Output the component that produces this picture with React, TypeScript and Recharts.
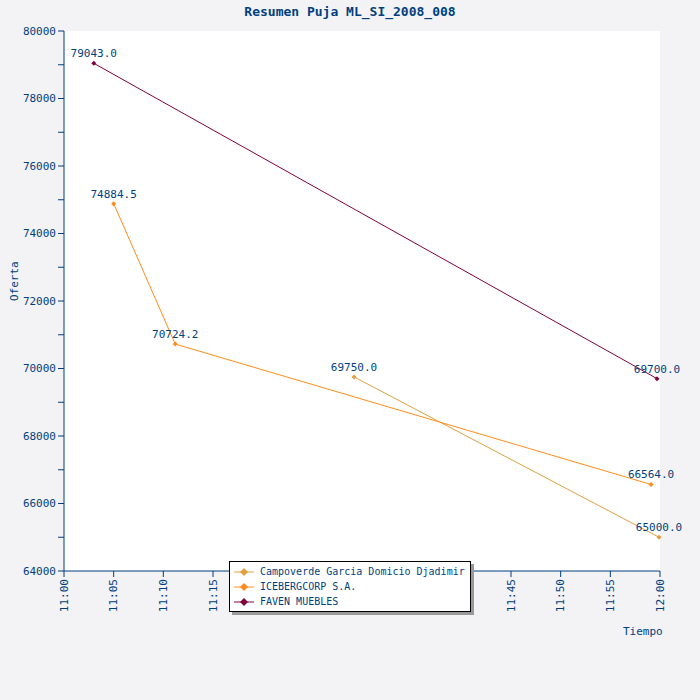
import { LineChart, Line, XAxis, YAxis, CartesianGrid, LabelList } from "recharts";

const campoverde = [
  { t: 29.2, v: 69750.0 },
  { t: 59.9, v: 65000.0 },
];
const iceberg = [
  { t: 5.0, v: 74884.5 },
  { t: 11.2, v: 70724.2 },
  { t: 59.1, v: 66564.0 },
];
const faven = [
  { t: 3.0, v: 79043.0 },
  { t: 59.7, v: 69700.0 },
];
const xTicks = [0, 5, 10, 15, 20, 25, 30, 35, 40, 45, 50, 55, 60];
const yTicks = [64000, 65000, 66000, 67000, 68000, 69000, 70000, 71000, 72000, 73000, 74000, 75000, 76000, 77000, 78000, 79000, 80000];

const navy = "#003f7f";
const font = "'DejaVu Sans Mono', monospace";

const Diamond = (color) => (props) => {
  const { cx, cy } = props;
  if (cx == null || cy == null) return null;
  return <path d={`M${cx},${cy - 2.5}L${cx + 2.5},${cy}L${cx},${cy + 2.5}L${cx - 2.5},${cy}Z`} fill={color} />;
};

const series = [
  { name: "Campoverde Garcia Domicio Djadimir", data: campoverde, color: "#e0a040" },
  { name: "ICEBERGCORP S.A.", data: iceberg, color: "#ff8c1a" },
  { name: "FAVEN MUEBLES", data: faven, color: "#800040" },
];

const LegendBox = () => (
  <div style={{ position: "absolute", left: 229, top: 561, width: 240, background: "#fff", border: "1px solid #000", boxShadow: "3px 3px 0 #999", padding: "2px 0", fontFamily: font, fontSize: 10, color: navy, whiteSpace: "nowrap" }}>
    {series.map((s) => (
      <div key={s.name} style={{ display: "flex", alignItems: "center", height: 15 }}>
        <svg width={24} height={10} style={{ margin: "0 4px 0 2px" }}>
          <line x1={2} y1={5} x2={22} y2={5} stroke={s.color} />
          <path d="M12,1L16,5L12,9L8,5Z" fill={s.color} />
        </svg>
        {s.name}
      </div>
    ))}
  </div>
);

export default function App() {
  return (
    <div style={{ position: "fixed", left: 0, top: 0, width: 700, height: 700, background: "#f3f3f5", fontFamily: font }}>
      <div style={{ position: "absolute", top: 4, width: 700, textAlign: "center", fontSize: 13, fontWeight: "bold", color: navy }}>
        Resumen Puja ML_SI_2008_008
      </div>
      <div style={{ position: "absolute", left: 623, top: 625, fontSize: 11, color: navy }}>Tiempo</div>
      <LineChart width={700} height={700} margin={{ top: 31, right: 40, left: 0, bottom: 89 }}>
        <rect x={64} y={31} width={596} height={540} fill="#fff" />
        <CartesianGrid vertical={false} stroke="#dddddd" horizontalValues={[66000, 68000, 70000, 72000, 74000, 76000, 78000]} />
        <XAxis type="number" dataKey="t" domain={[0, 60]} ticks={xTicks} height={40} interval={0}
          stroke={navy} tick={{ fill: navy, fontSize: 11, fontFamily: font }} angle={-90} textAnchor="end" dx={-4}
          tickFormatter={(m) => `${m === 60 ? 12 : 11}:${String(m % 60).padStart(2, "0")}`} />
        <YAxis type="number" dataKey="v" domain={[64000, 80000]} ticks={yTicks} width={64} interval={0}
          stroke={navy} tick={{ fill: navy, fontSize: 11, fontFamily: font }}
          tickFormatter={(v) => (v % 2000 === 0 ? String(v) : "")}
          label={{ value: "Oferta", angle: -90, position: "insideLeft", offset: 14, fill: navy, fontSize: 11, fontFamily: font }} />
        {series.map((s) => (
          <Line key={s.name} data={s.data} dataKey="v" name={s.name} stroke={s.color} strokeWidth={1}
            dot={Diamond(s.color)} isAnimationActive={false}>
            <LabelList dataKey="v" position="top" offset={6} fill={navy} fontSize={11} fontFamily={font}
              formatter={(v) => Number(v).toFixed(1)} />
          </Line>
        ))}
      </LineChart>
      <LegendBox />
    </div>
  );
}
